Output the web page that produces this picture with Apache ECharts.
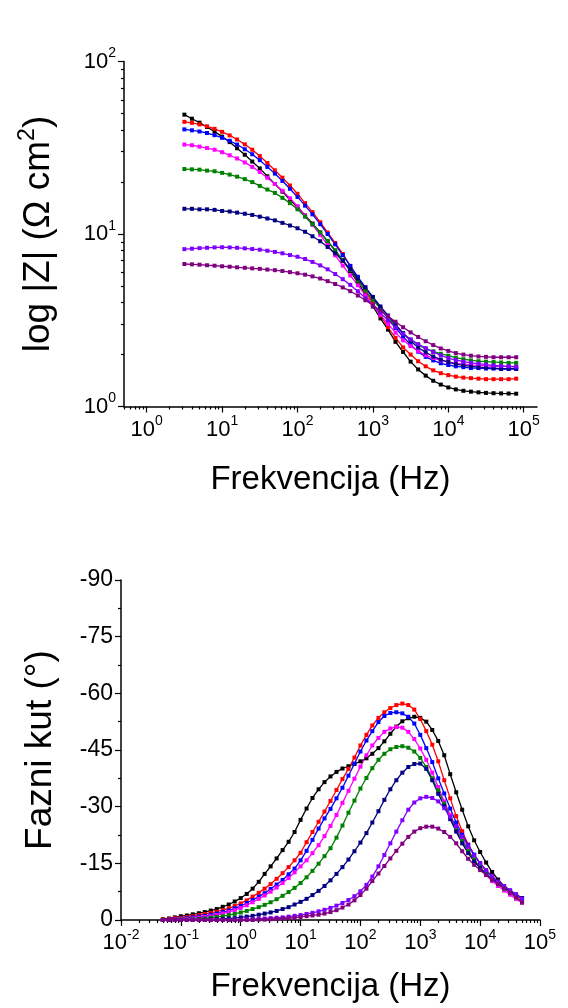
<!DOCTYPE html>
<html>
<head>
<meta charset="utf-8">
<script src="https://cdn.jsdelivr.net/npm/echarts@6/dist/echarts.min.js"></script>
<style>
  html, body { margin: 0; padding: 0; background: #fff; }
  #chart { width: 568px; height: 1008px; }
</style>
</head>
<body>
<div id="chart"></div>
<script>
  // frequencies (Hz) of the |Z| sweep
  const freqZ = [3.16, 3.98, 5.01, 6.31, 7.94, 10, 12.6, 15.8, 20, 25.1, 31.6, 39.8, 50.1, 63.1, 79.4,
    100, 126, 158, 200, 251, 316, 398, 501, 631, 794, 1000, 1259, 1585, 1995, 2512,
    3162, 3981, 5012, 6310, 7943, 10000, 12589, 15849, 19953, 25119, 31623, 39811, 50119, 63096, 79433];

  // |Z| in ohm cm2
  const zBlack = [49.2, 46.6, 44.2, 41.7, 39.2, 36.7, 34.1, 31.4, 28.8, 26.3, 24.0, 21.6, 19.5, 17.6, 15.8,
    14.3, 12.8, 11.5, 10.2, 9.06, 8.00, 7.03, 6.10, 5.25, 4.47, 3.80, 3.24, 2.79, 2.37, 2.07,
    1.82, 1.64, 1.51, 1.41, 1.34, 1.29, 1.256, 1.233, 1.219, 1.208, 1.199, 1.194, 1.191, 1.189, 1.186];
  const zRed = [44.7, 44.1, 43.2, 42.1, 40.7, 39.1, 37.3, 35.3, 33.1, 30.8, 28.3, 25.8, 23.4, 21.2, 19.1,
    17.1, 15.1, 13.4, 11.7, 10.2, 8.87, 7.66, 6.53, 5.52, 4.68, 3.96, 3.37, 2.88, 2.50, 2.20,
    2.00, 1.83, 1.71, 1.62, 1.56, 1.52, 1.49, 1.47, 1.46, 1.45, 1.44, 1.44, 1.44, 1.44, 1.45];
  const zBlue = [40.4, 39.9, 39.3, 38.5, 37.4, 36.1, 34.7, 33.0, 31.0, 29.0, 26.8, 24.5, 22.4, 20.3, 18.3,
    16.4, 14.6, 13.0, 11.4, 10.0, 8.71, 7.55, 6.53, 5.65, 4.90, 4.25, 3.70, 3.24, 2.85, 2.54,
    2.28, 2.08, 1.94, 1.85, 1.78, 1.74, 1.71, 1.69, 1.67, 1.67, 1.66, 1.66, 1.65, 1.65, 1.65];
  const zMagenta = [33.0, 32.7, 32.1, 31.5, 30.8, 29.8, 28.6, 27.4, 26.0, 24.5, 22.9, 21.2, 19.5, 17.8, 16.1,
    14.5, 12.8, 11.3, 9.89, 8.61, 7.52, 6.56, 5.75, 5.05, 4.42, 3.87, 3.40, 3.01, 2.68, 2.42,
    2.24, 2.10, 1.98, 1.91, 1.85, 1.81, 1.78, 1.76, 1.74, 1.73, 1.72, 1.71, 1.71, 1.71, 1.70];
  const zGreen = [23.8, 23.7, 23.6, 23.3, 23.1, 22.6, 22.1, 21.5, 20.8, 20.0, 19.0, 18.1, 17.3, 16.2, 15.1,
    13.9, 12.6, 11.4, 10.2, 9.12, 8.04, 7.08, 6.17, 5.37, 4.70, 4.15, 3.68, 3.28, 2.94, 2.66,
    2.44, 2.28, 2.16, 2.09, 2.02, 1.97, 1.92, 1.88, 1.85, 1.83, 1.82, 1.81, 1.80, 1.79, 1.79];
  const zNavy = [14.0, 14.0, 13.9, 13.9, 13.8, 13.6, 13.5, 13.3, 13.1, 12.9, 12.6, 12.3, 12.0, 11.6, 11.2,
    10.8, 10.3, 9.70, 9.08, 8.41, 7.73, 7.00, 6.25, 5.52, 4.90, 4.32, 3.80, 3.37, 2.99, 2.66,
    2.40, 2.20, 2.06, 1.95, 1.87, 1.81, 1.76, 1.73, 1.71, 1.69, 1.68, 1.67, 1.66, 1.66, 1.66];
  const zViolet = [8.17, 8.22, 8.28, 8.32, 8.36, 8.38, 8.36, 8.32, 8.26, 8.18, 8.11, 8.00, 7.87, 7.73, 7.55,
    7.38, 7.16, 6.89, 6.58, 6.24, 5.86, 5.47, 5.07, 4.66, 4.25, 3.85, 3.49, 3.16, 2.88, 2.64,
    2.45, 2.30, 2.18, 2.07, 1.98, 1.91, 1.86, 1.82, 1.79, 1.77, 1.75, 1.73, 1.72, 1.71, 1.70];
  const zPurple = [6.70, 6.67, 6.64, 6.59, 6.55, 6.50, 6.46, 6.41, 6.37, 6.32, 6.28, 6.22, 6.17, 6.10, 6.01,
    5.92, 5.81, 5.68, 5.52, 5.33, 5.13, 4.90, 4.66, 4.40, 4.13, 3.86, 3.60, 3.34, 3.10, 2.88,
    2.69, 2.53, 2.39, 2.27, 2.17, 2.10, 2.04, 2.00, 1.97, 1.95, 1.94, 1.93, 1.93, 1.93, 1.93];

  // frequencies (Hz) of the phase sweep
  const freqPh = [0.0501, 0.0631, 0.0794, 0.1, 0.126, 0.158, 0.2, 0.251, 0.316, 0.398,
    0.501, 0.631, 0.794, 1, 1.26, 1.58, 2, 2.51, 3.16, 3.98,
    5.01, 6.31, 7.94, 10, 12.6, 15.8, 20, 25.1, 31.6, 39.8,
    50.1, 63.1, 79.4, 100, 126, 158, 200, 251, 316, 398,
    501, 631, 794, 1000, 1259, 1585, 1995, 2512, 3162, 3981,
    5012, 6310, 7943, 10000, 12589, 15849, 19953, 25119, 31623, 39811, 50119];

  // phase angle (degrees)
  const phBlack = [-0.2, -0.4, -0.7, -1.0, -1.2, -1.5, -1.8, -2.1, -2.5, -2.9,
    -3.5, -4.1, -4.9, -5.8, -6.9, -8.3, -10.1, -12.2, -14.2, -16.3,
    -18.5, -20.7, -23.3, -26.5, -29.5, -32.3, -34.6, -36.5, -38.0, -39.2,
    -40.1, -40.7, -41.3, -42.0, -42.8, -44.0, -45.5, -47.3, -49.3, -51.2,
    -52.6, -53.4, -53.8, -53.5, -52.5, -50.3, -47.4, -43.6, -38.6, -33.8,
    -29.2, -24.8, -21.1, -18.0, -15.2, -12.7, -10.7, -9.0, -7.7, -6.7, -5.8];
  const phRed = [-0.1, -0.3, -0.5, -0.6, -0.8, -1.0, -1.3, -1.6, -1.9, -2.2,
    -2.6, -3.1, -3.7, -4.4, -5.2, -6.2, -7.2, -8.3, -9.5, -10.9,
    -12.4, -14.0, -15.8, -17.8, -20.6, -23.3, -26.0, -28.7, -31.5, -34.4,
    -37.3, -40.0, -43.0, -46.2, -49.0, -51.5, -53.5, -55.0, -56.1, -56.9,
    -57.3, -56.9, -55.7, -53.2, -50.0, -46.4, -42.0, -37.0, -32.2, -27.5,
    -23.5, -20.0, -17.2, -15.0, -13.1, -11.5, -10.0, -8.7, -7.5, -6.4, -5.4];
  const phBlue = [0, -0.1, -0.2, -0.4, -0.5, -0.7, -0.9, -1.1, -1.4, -1.7,
    -2.1, -2.5, -3.1, -3.7, -4.5, -5.3, -6.2, -7.1, -8.2, -9.4,
    -10.6, -12.1, -13.6, -15.8, -18.3, -21.2, -24.2, -26.9, -29.4, -32.2,
    -35.0, -38.2, -41.4, -44.6, -47.5, -50.0, -52.4, -54.0, -54.8, -55.0,
    -54.7, -53.8, -52.0, -49.0, -45.5, -41.8, -37.5, -33.5, -29.5, -25.8,
    -22.6, -19.8, -17.3, -15.0, -13.0, -11.3, -9.8, -8.5, -7.4, -6.5, -5.8];
  const phMagenta = [0, 0, -0.1, -0.2, -0.3, -0.4, -0.6, -0.8, -1.0, -1.3,
    -1.7, -2.1, -2.6, -3.2, -3.9, -4.7, -5.6, -6.5, -7.5, -8.6,
    -9.8, -11.1, -12.6, -14.2, -15.8, -17.7, -19.8, -22.2, -24.9, -27.8,
    -31.0, -34.2, -37.4, -40.6, -43.6, -46.2, -48.2, -49.8, -50.7, -51.1,
    -50.9, -49.8, -47.9, -45.4, -42.4, -39.0, -35.2, -31.4, -27.8, -24.4,
    -21.3, -18.5, -16.0, -13.8, -11.9, -10.3, -9.0, -7.8, -6.7, -5.6, -4.6];
  const phGreen = [0, 0, 0, -0.1, -0.1, -0.2, -0.3, -0.4, -0.6, -0.8,
    -1.0, -1.3, -1.6, -2.0, -2.4, -2.9, -3.4, -4.0, -4.7, -5.5,
    -6.4, -7.4, -8.5, -9.8, -11.3, -13.0, -14.9, -16.9, -19.0, -21.8,
    -25.0, -28.4, -31.6, -34.8, -37.6, -40.2, -42.4, -44.0, -45.2, -45.8,
    -46.0, -45.6, -44.6, -42.9, -40.5, -37.5, -34.3, -30.8, -27.2, -23.8,
    -20.9, -18.3, -16.0, -14.0, -12.3, -10.8, -9.5, -8.3, -7.2, -6.0, -4.8];
  const phNavy = [0, 0, 0, 0, 0, 0, -0.1, -0.1, -0.2, -0.2,
    -0.3, -0.4, -0.5, -0.7, -0.9, -1.1, -1.4, -1.7, -2.0, -2.4,
    -2.9, -3.4, -4.1, -4.8, -5.6, -6.6, -7.7, -9.0, -10.5, -12.2,
    -14.0, -16.0, -18.2, -20.5, -23.0, -25.8, -28.8, -31.8, -34.6, -37.0,
    -39.0, -40.5, -41.3, -41.4, -40.0, -37.0, -33.4, -30.2, -26.7, -23.4,
    -20.3, -17.7, -15.5, -13.7, -12.0, -10.8, -9.6, -8.6, -7.6, -6.7, -5.8];
  const phViolet = [0, 0, 0, 0, 0, 0, 0, 0, 0, 0,
    0, 0, -0.1, -0.1, -0.2, -0.2, -0.3, -0.4, -0.5, -0.6,
    -0.7, -0.9, -1.1, -1.3, -1.6, -1.9, -2.3, -2.7, -3.2, -3.8,
    -4.5, -5.3, -6.3, -7.6, -9.3, -11.5, -14.2, -17.2, -20.3, -23.4,
    -26.4, -29.2, -31.1, -32.2, -32.6, -32.3, -31.4, -29.6, -27.3, -24.8,
    -22.1, -19.5, -17.1, -15.0, -13.2, -11.6, -10.2, -9.0, -7.9, -6.8, -5.6];
  const phPurple = [0, 0, 0, 0, 0, 0, 0, 0, 0, 0,
    0, 0, 0, 0, 0, 0, -0.1, -0.1, -0.2, -0.3,
    -0.4, -0.5, -0.6, -0.8, -1.0, -1.2, -1.4, -1.7, -2.1, -2.6,
    -3.3, -4.1, -5.2, -6.6, -8.3, -10.3, -12.3, -14.3, -16.3, -18.3,
    -20.2, -22.0, -23.4, -24.3, -24.7, -24.7, -24.2, -23.3, -22.0, -20.3,
    -18.2, -16.2, -14.6, -13.2, -11.9, -10.7, -9.6, -8.4, -7.2, -6.0, -4.6];

  const colors = ['#000000', '#ff0000', '#0000ff', '#ff00ff', '#008000', '#000080', '#8000ff', '#800080'];
  const zSets = [zBlack, zRed, zBlue, zMagenta, zGreen, zNavy, zViolet, zPurple];
  const phSets = [phBlack, phRed, phBlue, phMagenta, phGreen, phNavy, phViolet, phPurple];

  const FONT = 'Liberation Sans, Arial, sans-serif';

  // log-axis minor tick values: 2..9 times each decade
  function minorLog(lo, hi, min, max) {
    const out = [];
    for (let d = lo; d <= hi; d++) {
      for (let k = 2; k <= 9; k++) {
        const v = +(k * Math.pow(10, d)).toPrecision(3);
        if (v >= min && v <= max) out.push(v);
      }
    }
    return out;
  }

  const rich = {
    b: { fontSize: 22, fontFamily: FONT, color: '#000', lineHeight: 30 },
    s: { fontSize: 14, fontFamily: FONT, color: '#000', lineHeight: 15, verticalAlign: 'top' }
  };
  function pow10(v) {
    const e = Math.round(Math.log10(v));
    return '{b|10}{s|' + e + '}';
  }

  const lineBlack = { color: '#000', width: 1.5 };
  const tickStyle = { color: '#000', width: 1.2 };

  const topXMajor = [1, 10, 100, 1000, 10000, 100000];
  const botXMajor = [0.01, 0.1, 1, 10, 100, 1000, 10000, 100000];
  const topYMajor = [1, 10, 100];

  function majorLogAxis(grid, min, max, ticks, extra) {
    return Object.assign({
      type: 'log', logBase: 10, gridIndex: grid, min: min, max: max,
      axisLine: { show: true, onZero: false, lineStyle: lineBlack },
      axisTick: { show: true, length: 6, customValues: ticks, lineStyle: tickStyle },
      axisLabel: { customValues: ticks, formatter: pow10, rich: rich, margin: 8 },
      splitLine: { show: false },
      minorTick: { show: false }
    }, extra);
  }
  function minorLogAxis(grid, min, max, ticks, position) {
    return {
      type: 'log', logBase: 10, gridIndex: grid, min: min, max: max, position: position,
      axisLine: { show: false },
      axisTick: { show: true, length: 3, customValues: ticks, lineStyle: tickStyle },
      axisLabel: { show: false },
      splitLine: { show: false }
    };
  }

  const titleStyle = { fontSize: 33, fontFamily: FONT, color: '#000' };
  const yTitleStyle = { fontSize: 37, fontFamily: FONT, color: '#000' };

  const series = [];
  zSets.forEach(function (arr, i) {
    series.push({
      type: 'line', xAxisIndex: 0, yAxisIndex: 0,
      data: freqZ.map(function (f, j) { return [f, arr[j]]; }),
      symbol: 'rect', symbolSize: 4, showAllSymbol: true,
      lineStyle: { width: 1.3, color: colors[i] }, itemStyle: { color: colors[i] },
      animation: false
    });
  });
  phSets.forEach(function (arr, i) {
    series.push({
      type: 'line', xAxisIndex: 2, yAxisIndex: 2,
      data: freqPh.map(function (f, j) { return [f, arr[j]]; }),
      symbol: 'rect', symbolSize: 4, showAllSymbol: true,
      lineStyle: { width: 1.3, color: colors[i] }, itemStyle: { color: colors[i] },
      animation: false
    });
  });

  const chart = echarts.init(document.getElementById('chart'));
  chart.setOption({
    backgroundColor: '#ffffff',
    animation: false,
    grid: [
      { left: 124, top: 61.5, width: 413, height: 345 },
      { left: 121, top: 580, width: 419, height: 340 }
    ],
    xAxis: [
      majorLogAxis(0, 0.5, 150000, topXMajor, {
        name: 'Frekvencija (Hz)', nameLocation: 'middle', nameGap: 57, nameTextStyle: titleStyle
      }),
      minorLogAxis(0, 0.5, 150000, minorLog(-1, 5, 0.5, 150000), 'bottom'),
      majorLogAxis(1, 0.0099999, 100001, botXMajor, {
        name: 'Frekvencija (Hz)', nameLocation: 'middle', nameGap: 50, nameTextStyle: titleStyle
      }),
      minorLogAxis(1, 0.0099999, 100001, minorLog(-2, 4, 0.01, 100000), 'bottom')
    ],
    yAxis: [
      majorLogAxis(0, 0.99999, 100.001, topYMajor, {
        name: '{a|log |Z| (Ω cm}{s|2}{a|)}', nameLocation: 'middle', nameGap: 62,
        nameTextStyle: {
          rich: {
            a: { fontSize: 37, fontFamily: FONT, color: '#000', lineHeight: 46 },
            s: { fontSize: 23, fontFamily: FONT, color: '#000', lineHeight: 24, verticalAlign: 'top' }
          }
        }
      }),
      minorLogAxis(0, 0.99999, 100.001, minorLog(0, 1, 1, 100), 'left'),
      {
        type: 'value', gridIndex: 1, min: -90, max: 0, interval: 15, inverse: true,
        axisLine: { show: true, onZero: false, lineStyle: lineBlack },
        axisTick: { show: true, length: 6, lineStyle: tickStyle },
        minorTick: { show: true, splitNumber: 2, length: 3, lineStyle: tickStyle },
        axisLabel: { fontSize: 23, fontFamily: FONT, color: '#000', margin: 8 },
        splitLine: { show: false },
        minorSplitLine: { show: false },
        name: 'Fazni kut (°)', nameLocation: 'middle', nameGap: 62, nameTextStyle: yTitleStyle
      }
    ],
    series: series
  });
</script>
</body>
</html>
